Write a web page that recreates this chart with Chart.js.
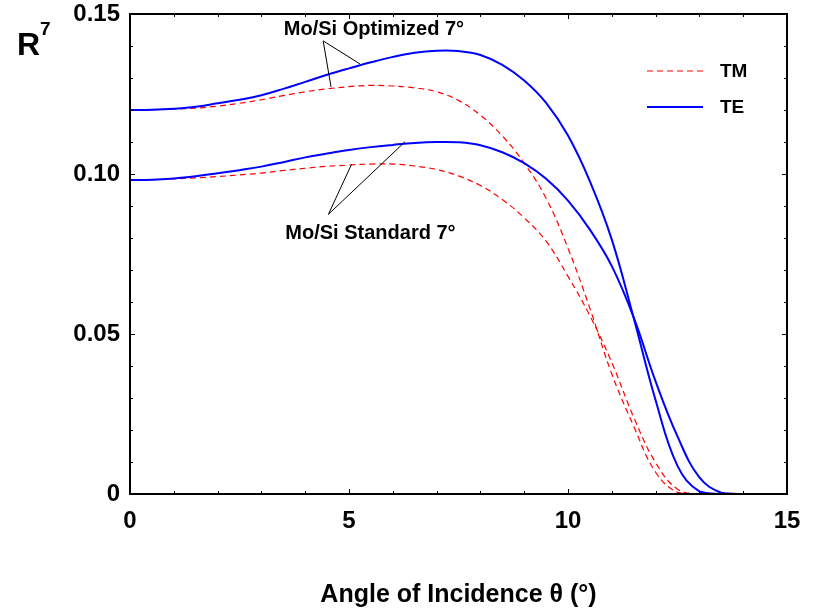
<!DOCTYPE html>
<html><head><meta charset="utf-8">
<script src="https://cdn.jsdelivr.net/npm/chart.js@4.4.0/dist/chart.umd.min.js"></script>
<style>html,body{margin:0;padding:0;background:#fff;} #wrap{width:815px;height:610px;}</style>
</head><body><div id="wrap"><canvas id="c" width="815" height="610"></canvas></div>
<script>
// ---- data ----
const angles      = [0,0.5,1,1.5,2,2.5,3,3.5,4,4.5,5,5.5,6,6.5,7,7.5,8,8.5,9,9.5,10,10.5,11,11.5,12,12.5,13,13.5,14,14.5,15];
const optimizedTE = [0.1200,0.1201,0.1204,0.1210,0.1221,0.1232,0.1246,0.1266,0.1288,0.1310,0.1330,0.1349,0.1366,0.1379,0.1385,0.1384,0.1372,0.1341,0.1292,0.1222,0.1120,0.0977,0.0795,0.0550,0.0293,0.0088,0.0008,0,0,0,0];
const standardTE  = [0.0981,0.0982,0.0986,0.0993,0.1002,0.1012,0.1023,0.1037,0.1052,0.1064,0.1075,0.1084,0.1091,0.1097,0.1100,0.1099,0.1090,0.1068,0.1034,0.0985,0.0917,0.0826,0.0712,0.0552,0.0352,0.0180,0.0052,0.0004,0,0,0];
const optimizedTM = [0.1200,0.1201,0.1203,0.1206,0.1212,0.1221,0.1232,0.1245,0.1257,0.1266,0.1273,0.1277,0.1275,0.1269,0.1257,0.1230,0.1184,0.1119,0.1034,0.0924,0.0768,0.0580,0.0375,0.0212,0.0068,0.0005,0,0,0,0,0];
const standardTM  = [0.0981,0.0982,0.0985,0.0988,0.0992,0.0997,0.1003,0.1011,0.1018,0.1024,0.1028,0.1031,0.1031,0.1025,0.1014,0.0994,0.0964,0.0920,0.0863,0.0790,0.0680,0.0557,0.0411,0.0240,0.0098,0.0015,0,0,0,0,0];
const xTickValues = [0,5,10,15];
const xTickLabels = ['0','5','10','15'];
const yTickValues = [0,0.05,0.10,0.15];
const yTickLabels = ['0','0.05','0.10','0.15'];
const seriesNames = ['TM','TE'];
const xTitle = 'Angle of Incidence θ (°)';
const yTitleMain = 'R';
const yTitleSup = '7';

// ---- styling / layout ----
const FONT = '"Liberation Sans", Arial, Helvetica, sans-serif';
const TE_COLOR = '#0000ff';
const TM_COLOR = '#ff0000';
const TM_DASH = [6,4];

const annotations = [
  {text:'Mo/Si Optimized 7°', tx:5.57, ty:0.1453, apex:[4.41,0.1416], targets:[[5.25,0.1344],[4.59,0.1272]]},
  {text:'Mo/Si Standard 7°',  tx:5.49, ty:0.0815, apex:[4.53,0.0874], targets:[[6.28,0.1101],[5.06,0.1031]]}
];

const pts = arr => angles.map((x,i)=>({x:x, y:arr[i]}));
const teDs = (arr) => ({data:pts(arr), borderColor:TE_COLOR, borderWidth:2, pointRadius:0, tension:0.4, fill:false});
const tmDs = (arr) => ({data:pts(arr), borderColor:TM_COLOR, borderWidth:1.2, borderDash:TM_DASH, pointRadius:0, tension:0.4, fill:false});

const decor = {
  id:'decor',
  afterDatasetsDraw(chart){
    const ctx = chart.ctx, xs = chart.scales.x, ys = chart.scales.y, a = chart.chartArea;
    ctx.save();
    ctx.strokeStyle = '#000'; ctx.lineWidth = 1;
    annotations.forEach(an=>{
      const ax = xs.getPixelForValue(an.apex[0]), ay = ys.getPixelForValue(an.apex[1]);
      an.targets.forEach(t=>{
        ctx.beginPath(); ctx.moveTo(ax,ay);
        ctx.lineTo(xs.getPixelForValue(t[0]), ys.getPixelForValue(t[1])); ctx.stroke();
      });
      ctx.fillStyle = '#000'; ctx.font = 'bold 20px '+FONT;
      ctx.textAlign = 'center'; ctx.textBaseline = 'middle';
      ctx.fillText(an.text, xs.getPixelForValue(an.tx), ys.getPixelForValue(an.ty));
    });
    const lx1 = a.right-140, lx2 = a.right-84, tx = a.right-67;
    const rows = [{y:a.top+57, ds:chart.data.datasets[2]},{y:a.top+93, ds:chart.data.datasets[0]}];
    rows.forEach((r,i)=>{
      ctx.beginPath();
      ctx.strokeStyle = r.ds.borderColor; ctx.lineWidth = r.ds.borderWidth;
      ctx.setLineDash(r.ds.borderDash || []);
      ctx.moveTo(lx1, r.y); ctx.lineTo(lx2, r.y); ctx.stroke();
      ctx.setLineDash([]);
      ctx.fillStyle = '#000'; ctx.font = 'bold 19px '+FONT;
      ctx.textAlign = 'left'; ctx.textBaseline = 'middle';
      ctx.fillText(seriesNames[i], tx, r.y+1);
    });
    ctx.restore();
  },
  afterDraw(chart){
    const ctx = chart.ctx, xs = chart.scales.x, ys = chart.scales.y, a = chart.chartArea;
    ctx.save();
    ctx.strokeStyle = '#000'; ctx.lineWidth = 1;
    for (let v=0; v<=15; v++){
      const px = Math.round(xs.getPixelForValue(v))+0.5;
      const L = (v%5===0)?5:3;
      ctx.beginPath(); ctx.moveTo(px,a.bottom); ctx.lineTo(px,a.bottom-L);
      ctx.moveTo(px,a.top); ctx.lineTo(px,a.top+L); ctx.stroke();
    }
    for (let k=0; k<=15; k++){
      const py = Math.round(ys.getPixelForValue(k/100))+0.5;
      const L = (k%5===0)?5:3;
      ctx.beginPath(); ctx.moveTo(a.left,py); ctx.lineTo(a.left+L,py);
      ctx.moveTo(a.right,py); ctx.lineTo(a.right-L,py); ctx.stroke();
    }
    ctx.lineWidth = 2;
    ctx.strokeRect(a.left, a.top, a.right-a.left, a.bottom-a.top);
    ctx.fillStyle = '#000'; ctx.textAlign = 'left'; ctx.textBaseline = 'alphabetic';
    ctx.font = 'bold 32px '+FONT;
    ctx.fillText(yTitleMain, 17, 55);
    ctx.font = 'bold 19px '+FONT;
    ctx.fillText(yTitleSup, 40, 35);
    ctx.restore();
  }
};

new Chart(document.getElementById('c'), {
  type:'line',
  data:{datasets:[teDs(optimizedTE), teDs(standardTE), tmDs(optimizedTM), tmDs(standardTM)]},
  options:{
    responsive:false, animation:false, devicePixelRatio:1,
    layout:{padding:{left:0,right:28,top:14,bottom:0}},
    plugins:{legend:{display:false}, tooltip:{enabled:false}},
    scales:{
      x:{type:'linear', min:0, max:15,
        afterFit(s){ s.height = 116; s.paddingLeft = 0; s.paddingRight = 0; },
        afterBuildTicks(s){ s.ticks = xTickValues.map(v=>({value:v})); },
        ticks:{callback:(v,i)=>xTickLabels[i], padding:13, autoSkip:false, maxRotation:0,
               color:'#000', font:{family:FONT, size:24, weight:'bold'}},
        grid:{display:false, drawTicks:false, tickLength:0}, border:{display:false},
        title:{display:true, text:xTitle, color:'#000', font:{family:FONT, size:25, weight:'bold'}, padding:{top:0,bottom:0}}
      },
      y:{type:'linear', min:0, max:0.15,
        afterFit(s){ s.width = 130; s.paddingTop = 0; s.paddingBottom = 0; },
        afterBuildTicks(s){ s.ticks = yTickValues.map(v=>({value:v})); },
        ticks:{callback:(v,i)=>yTickLabels[i], padding:10, autoSkip:false,
               color:'#000', font:{family:FONT, size:24, weight:'bold'}},
        grid:{display:false, drawTicks:false, tickLength:0}, border:{display:false}
      }
    }
  },
  plugins:[decor]
});
</script></body></html>
